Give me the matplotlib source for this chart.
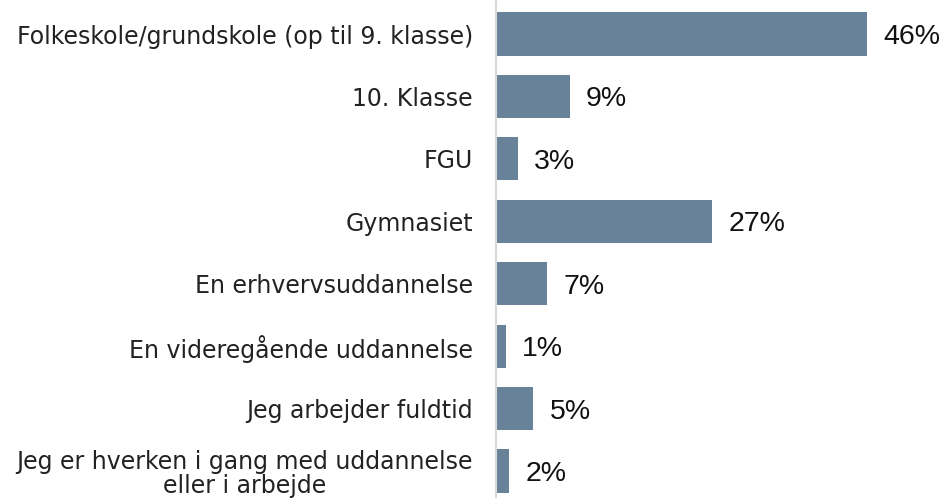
import matplotlib
matplotlib.use("Agg")
import matplotlib.pyplot as plt

categories = ["Folkeskole/grundskole (op til 9. klasse)", "10. Klasse", "FGU", "Gymnasiet",
              "En erhvervsuddannelse", "En videregående uddannelse", "Jeg arbejder fuldtid",
              "Jeg er hverken i gang med uddannelse\neller i arbejde"]
# bar lengths (labels are the rounded shares)
values = [46.0, 9.1, 2.7, 26.8, 6.3, 1.15, 4.6, 1.6]
labels = ["46%", "9%", "3%", "27%", "7%", "1%", "5%", "2%"]

bar_color = "#688399"

fig = plt.figure(figsize=(9.48, 4.98), dpi=100)
ax = fig.add_axes([0.5237, 0.0, 0.4246, 1.0])

pos = list(range(len(categories)))
ax.barh(pos, values, height=0.69, color=bar_color)
ax.set_ylim(7.432, -0.545)
ax.set_xlim(0, 50)

for p, v, lab in zip(pos, values, labels):
    ax.text(v + 2.0, p, lab, va="center_baseline", ha="left", fontsize=20.5,
            family="Liberation Sans", color="#111111")

ax.set_yticks(pos)
ax.set_yticklabels(categories, fontsize=17, family="DejaVu Sans", color="#222222",
                   linespacing=1.0, multialignment="center")
ax.tick_params(axis="y", length=0, pad=17)
ax.set_xticks([])
for s in ["top", "right", "bottom"]:
    ax.spines[s].set_visible(False)
ax.spines["left"].set_color("#d9d9d9")
ax.spines["left"].set_linewidth(1.5)

fig.savefig("out.png", dpi=100)
